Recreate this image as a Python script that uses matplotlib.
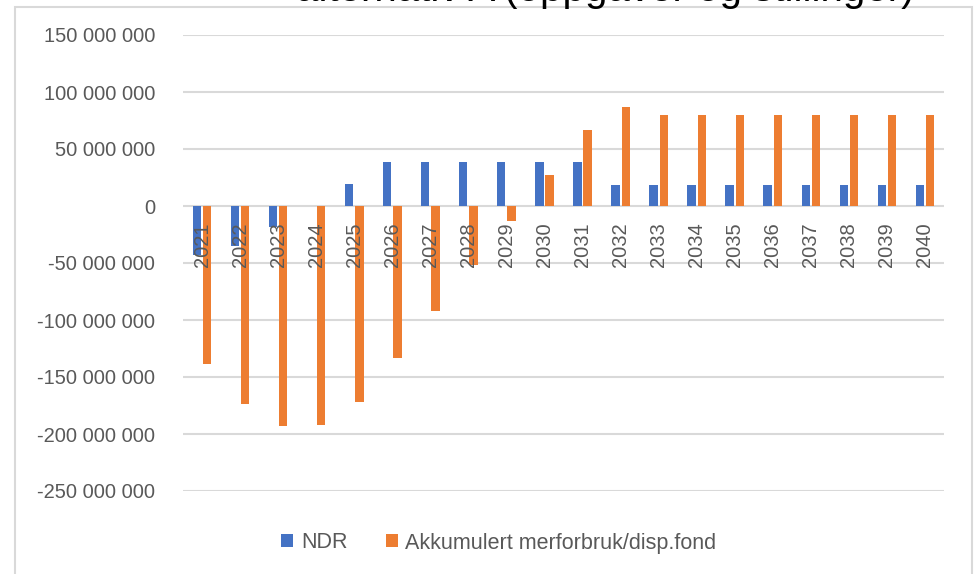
import matplotlib
matplotlib.use("Agg")
import matplotlib.pyplot as plt
import matplotlib.patches as mpatches
import numpy as np

years = [str(y) for y in range(2021, 2041)]
ndr = [-43e6, -35e6, -18e6, 0, 19e6, 39e6, 39e6, 39e6, 39e6, 39e6, 39e6,
       18e6, 18e6, 18e6, 18e6, 18e6, 18e6, 18e6, 18e6, 18e6]
akk = [-139e6, -174e6, -193e6, -192e6, -172e6, -133e6, -92e6, -52e6, -13e6, 27e6,
       67e6, 87e6, 80e6, 80e6, 80e6, 80e6, 80e6, 80e6, 80e6, 80e6]
series_names = ["NDR", "Akkumulert merforbruk/disp.fond"]
yticks = [150e6, 100e6, 50e6, 0, -50e6, -100e6, -150e6, -200e6, -250e6]
title = "alternativ A (oppgaver og stillinger)"

BLUE = "#4472C4"
ORANGE = "#ED7D31"
GRID = "#D9D9D9"
TXT = "#595959"

plt.rcParams['font.family'] = ['Liberation Sans', 'DejaVu Sans']

W, H = 974, 574
fig = plt.figure(figsize=(W / 100, H / 100), dpi=100)

# outer chart frame
fig.patches.append(mpatches.Rectangle((15 / W, -0.05), (972 - 15) / W, 1.05 - 7 / H,
                                      transform=fig.transFigure, fill=False,
                                      edgecolor=GRID, linewidth=1.5))

# title (clipped at the top edge, as in the reference)
fig.text(915 / W, 1 - 1 / H, title, ha='right', va='baseline', fontsize=29, color='black')

ax = fig.add_axes([183 / W, 1 - 491 / H, (944 - 183) / W, (491 - 35) / H])
x = np.arange(len(years))
bw = 0.22
off = 0.135
ax.bar(x - off, ndr, width=bw, color=BLUE, label=series_names[0], zorder=3)
ax.bar(x + off, akk, width=bw, color=ORANGE, label=series_names[1], zorder=3)

ax.set_xlim(-0.5, len(years) - 0.5)
ax.set_ylim(-250e6, 150e6)
ax.set_yticks(yticks)
ax.set_yticklabels([f"{int(v):,}".replace(",", " ") for v in yticks])
ax.tick_params(axis='y', length=0, pad=20, labelsize=14.5, labelcolor=TXT)
ax.set_xticks([])
ax.grid(axis='y', color=GRID, linewidth=1.5, zorder=0)
for s in ax.spines.values():
    s.set_visible(False)

for xi, lab in zip(x, years):
    ax.annotate(lab, xy=(xi, 0), xytext=(0, -12), textcoords='offset points',
                rotation=90, ha='center', va='top', fontsize=14.5, color=TXT, zorder=4)

leg = fig.legend(loc='center', bbox_to_anchor=(499 / W, 1 - 543 / H), ncol=2, frameon=False,
                 fontsize=15.5, handlelength=0.55, handleheight=0.55, handletextpad=0.35,
                 columnspacing=1.8)
for t in leg.get_texts():
    t.set_color(TXT)

fig.savefig("out.png", dpi=100)
